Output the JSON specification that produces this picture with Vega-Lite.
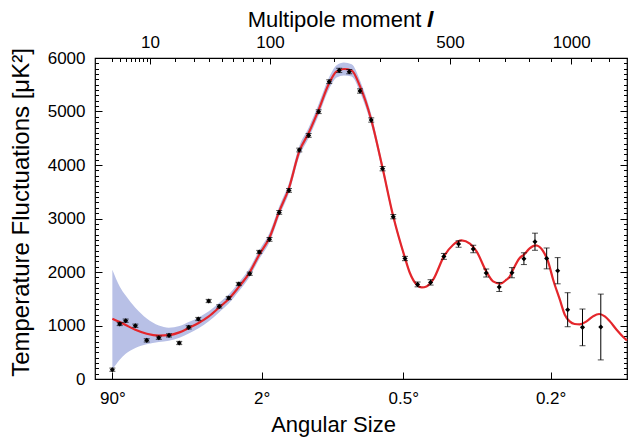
{
  "$schema": "https://vega.github.io/schema/vega-lite/v6.json",
  "width": 532,
  "height": 321,
  "autosize": {"type": "none"},
  "padding": {"left": 95, "top": 58, "right": 13, "bottom": 68},
  "background": "white",
  "config": {
    "view": {"stroke": "black", "strokeWidth": 1.2},
    "font": "Liberation Sans",
    "axis": {
      "domain": false,
      "grid": false,
      "tickColor": "black",
      "tickWidth": 1,
      "labelColor": "black",
      "titleColor": "black",
      "labelFont": "Liberation Sans",
      "titleFont": "Liberation Sans",
      "labelFontSize": 17,
      "titleFontSize": 22,
      "titleFontWeight": "normal"
    }
  },
  "datasets": {
    "band": [
      {"l": 2, "lo": 174, "hi": 2043},
      {"l": 3, "lo": 361, "hi": 1731},
      {"l": 4, "lo": 470, "hi": 1560},
      {"l": 6, "lo": 580, "hi": 1330},
      {"l": 9, "lo": 650, "hi": 1130},
      {"l": 13, "lo": 690, "hi": 1000},
      {"l": 17, "lo": 715, "hi": 960},
      {"l": 22, "lo": 770, "hi": 990},
      {"l": 27, "lo": 850, "hi": 1065},
      {"l": 33, "lo": 950, "hi": 1150},
      {"l": 40, "lo": 1080, "hi": 1265},
      {"l": 48, "lo": 1250, "hi": 1425},
      {"l": 56, "lo": 1410, "hi": 1580},
      {"l": 65, "lo": 1630, "hi": 1795},
      {"l": 76.5, "lo": 1910, "hi": 2075},
      {"l": 87, "lo": 2240, "hi": 2405},
      {"l": 99.6, "lo": 2560, "hi": 2740},
      {"l": 112, "lo": 3043, "hi": 3223},
      {"l": 125.6, "lo": 3475, "hi": 3665},
      {"l": 140.9, "lo": 4154, "hi": 4354},
      {"l": 155.8, "lo": 4498, "hi": 4698},
      {"l": 172.7, "lo": 4929, "hi": 5139},
      {"l": 191.7, "lo": 5423, "hi": 5643},
      {"l": 205.7, "lo": 5635, "hi": 5865},
      {"l": 220, "lo": 5674, "hi": 5914},
      {"l": 236, "lo": 5653, "hi": 5883},
      {"l": 254, "lo": 5359, "hi": 5579},
      {"l": 279.3, "lo": 4747, "hi": 4947},
      {"l": 306.4, "lo": 3864, "hi": 4024},
      {"l": 333.3, "lo": 2980, "hi": 3100},
      {"l": 364.5, "lo": 2222, "hi": 2302},
      {"l": 378, "lo": 1951, "hi": 2011},
      {"l": 397, "lo": 1743, "hi": 1783}
    ],
    "model": [
      {"l": 2, "v": 1127},
      {"l": 3, "v": 1065},
      {"l": 4, "v": 1009},
      {"l": 6, "v": 921},
      {"l": 9, "v": 846},
      {"l": 13, "v": 812},
      {"l": 17, "v": 820},
      {"l": 22, "v": 871},
      {"l": 27, "v": 953},
      {"l": 33, "v": 1047},
      {"l": 40, "v": 1170},
      {"l": 48, "v": 1338},
      {"l": 56, "v": 1495},
      {"l": 65, "v": 1712},
      {"l": 76.5, "v": 1993},
      {"l": 87, "v": 2323},
      {"l": 99.6, "v": 2650},
      {"l": 112, "v": 3133},
      {"l": 125.6, "v": 3570},
      {"l": 140.9, "v": 4254},
      {"l": 155.8, "v": 4598},
      {"l": 172.7, "v": 5034},
      {"l": 191.7, "v": 5533},
      {"l": 205.7, "v": 5750},
      {"l": 220, "v": 5794},
      {"l": 236, "v": 5768},
      {"l": 254, "v": 5469},
      {"l": 279.3, "v": 4847},
      {"l": 306.4, "v": 3944},
      {"l": 333.3, "v": 3040},
      {"l": 364.5, "v": 2262},
      {"l": 378, "v": 1981},
      {"l": 397, "v": 1763},
      {"l": 412, "v": 1712},
      {"l": 426, "v": 1731},
      {"l": 446, "v": 1856},
      {"l": 480, "v": 2292},
      {"l": 510.5, "v": 2510},
      {"l": 539, "v": 2590},
      {"l": 568, "v": 2529},
      {"l": 592, "v": 2385},
      {"l": 628, "v": 2011},
      {"l": 654, "v": 1824},
      {"l": 681, "v": 1781},
      {"l": 707, "v": 1856},
      {"l": 721, "v": 1918},
      {"l": 734, "v": 2043},
      {"l": 762, "v": 2262},
      {"l": 780, "v": 2323},
      {"l": 805, "v": 2440},
      {"l": 832, "v": 2497},
      {"l": 866, "v": 2385},
      {"l": 888, "v": 2198},
      {"l": 912, "v": 1856},
      {"l": 944, "v": 1482},
      {"l": 968, "v": 1202},
      {"l": 992, "v": 1077},
      {"l": 1017, "v": 1028},
      {"l": 1043, "v": 1021},
      {"l": 1078, "v": 1077},
      {"l": 1112, "v": 1170},
      {"l": 1145, "v": 1215},
      {"l": 1176, "v": 1170},
      {"l": 1204, "v": 1077},
      {"l": 1242, "v": 921},
      {"l": 1280, "v": 785},
      {"l": 1302, "v": 721}
    ],
    "spectrum": [
      {"l": 2, "v": 174, "lo": 144, "hi": 204},
      {"l": 3, "v": 1028, "lo": 998, "hi": 1058},
      {"l": 4, "v": 1090, "lo": 1060, "hi": 1120},
      {"l": 6, "v": 996, "lo": 966, "hi": 1026},
      {"l": 9, "v": 722, "lo": 692, "hi": 752},
      {"l": 13, "v": 772, "lo": 742, "hi": 802},
      {"l": 17.1, "v": 815, "lo": 785, "hi": 845},
      {"l": 21.9, "v": 673, "lo": 643, "hi": 703},
      {"l": 27, "v": 965, "lo": 935, "hi": 995},
      {"l": 32.8, "v": 1121, "lo": 1091, "hi": 1151},
      {"l": 39.9, "v": 1458, "lo": 1428, "hi": 1488},
      {"l": 48, "v": 1357, "lo": 1327, "hi": 1387},
      {"l": 56, "v": 1514, "lo": 1484, "hi": 1544},
      {"l": 65.3, "v": 1776, "lo": 1746, "hi": 1806},
      {"l": 76.5, "v": 1968, "lo": 1938, "hi": 1998},
      {"l": 87.1, "v": 2374, "lo": 2344, "hi": 2404},
      {"l": 99.4, "v": 2610, "lo": 2575, "hi": 2645},
      {"l": 112, "v": 3114, "lo": 3079, "hi": 3149},
      {"l": 125.6, "v": 3525, "lo": 3490, "hi": 3560},
      {"l": 140.9, "v": 4280, "lo": 4245, "hi": 4315},
      {"l": 155.8, "v": 4553, "lo": 4518, "hi": 4588},
      {"l": 172.7, "v": 4996, "lo": 4961, "hi": 5031},
      {"l": 191.7, "v": 5557, "lo": 5522, "hi": 5592},
      {"l": 210.8, "v": 5768, "lo": 5728, "hi": 5808},
      {"l": 231, "v": 5744, "lo": 5704, "hi": 5784},
      {"l": 253.9, "v": 5383, "lo": 5343, "hi": 5423},
      {"l": 279.3, "v": 4841, "lo": 4801, "hi": 4881},
      {"l": 306.4, "v": 3931, "lo": 3891, "hi": 3971},
      {"l": 333.3, "v": 3034, "lo": 2994, "hi": 3074},
      {"l": 364.5, "v": 2252, "lo": 2212, "hi": 2292},
      {"l": 399.8, "v": 1768, "lo": 1723, "hi": 1813},
      {"l": 438.3, "v": 1806, "lo": 1756, "hi": 1856},
      {"l": 479.9, "v": 2292, "lo": 2237, "hi": 2347},
      {"l": 528.6, "v": 2523, "lo": 2463, "hi": 2583},
      {"l": 579.9, "v": 2430, "lo": 2360, "hi": 2500},
      {"l": 627.7, "v": 1981, "lo": 1906, "hi": 2056},
      {"l": 678.1, "v": 1720, "lo": 1635, "hi": 1805},
      {"l": 729.5, "v": 1987, "lo": 1892, "hi": 2082},
      {"l": 780, "v": 2249, "lo": 2139, "hi": 2359},
      {"l": 828.5, "v": 2566, "lo": 2406, "hi": 2726},
      {"l": 881.6, "v": 2254, "lo": 2059, "hi": 2449},
      {"l": 933.5, "v": 2024, "lo": 1779, "hi": 2269},
      {"l": 982, "v": 1295, "lo": 977, "hi": 1613},
      {"l": 1057, "v": 965, "lo": 622, "hi": 1308},
      {"l": 1154, "v": 972, "lo": 357, "hi": 1587}
    ]
  },
  "layer": [
    {
      "data": {"name": "band"},
      "mark": {"type": "area", "color": "#b8c0e6", "interpolate": "monotone"},
      "encoding": {
        "x": {
          "field": "l",
          "type": "quantitative",
          "scale": {"type": "pow", "exponent": 0.4, "domain": [0.52, 1302], "nice": false, "zero": false},
          "axis": {
            "orient": "bottom",
            "values": [2, 90, 360, 900],
            "labelExpr": "180 / datum.value + '°'",
            "tickSize": -7,
            "labelPadding": 18,
            "title": "Angular Size",
            "titleX": 238,
            "titlePadding": 8
          }
        },
        "y": {
          "field": "lo",
          "type": "quantitative",
          "scale": {"domain": [0, 6000], "nice": false, "zero": true},
          "axis": {
            "orient": "left",
            "values": [0, 1000, 2000, 3000, 4000, 5000, 6000],
            "format": "d",
            "tickSize": -7,
            "labelPadding": 17,
            "title": "Temperature Fluctuations [μK²]",
            "titleFontSize": 24,
            "titleY": 154,
            "titlePadding": 14
          }
        },
        "y2": {"field": "hi"}
      }
    },
    {
      "data": {"name": "model"},
      "mark": {"type": "line", "color": "#e4262b", "strokeWidth": 2.2, "interpolate": "monotone"},
      "encoding": {
        "x": {
          "field": "l",
          "type": "quantitative",
          "axis": {
            "orient": "top",
            "values": [10, 100, 500, 1000],
            "format": "d",
            "tickSize": -6,
            "labelPadding": 12.5,
            "title": "Multipole moment  𝒍",
            "titleX": 245,
            "titlePadding": 2
          }
        },
        "y": {
          "field": "v",
          "type": "quantitative",
          "axis": {
            "orient": "right",
            "values": [0, 1000, 2000, 3000, 4000, 5000, 6000],
            "labels": false,
            "tickSize": -7,
            "title": null
          }
        }
      }
    },
    {
      "data": {"name": "spectrum"},
      "mark": {"type": "errorbar", "color": "black", "ticks": {"size": 6, "thickness": 1}, "thickness": 1},
      "encoding": {
        "x": {"field": "l", "type": "quantitative", "axis": null},
        "y": {"field": "lo", "type": "quantitative", "axis": null},
        "y2": {"field": "hi"}
      }
    },
    {
      "data": {"name": "spectrum"},
      "mark": {"type": "point", "shape": "diamond", "filled": true, "color": "black", "size": 26, "opacity": 1},
      "encoding": {
        "x": {
          "field": "l",
          "type": "quantitative",
          "axis": {
            "orient": "top",
            "values": [2, 3, 4, 5, 6, 7, 8, 9, 20, 30, 40, 50, 60, 70, 80, 90, 200, 300, 400, 600, 700, 800, 900, 1100, 1200],
            "labels": false,
            "tickSize": -3.5,
            "title": null
          }
        },
        "y": {
          "field": "v",
          "type": "quantitative",
          "axis": {
            "orient": "left",
            "values": [0, 100, 200, 300, 400, 500, 600, 700, 800, 900, 1000, 1100, 1200, 1300, 1400, 1500, 1600, 1700, 1800, 1900, 2000, 2100, 2200, 2300, 2400, 2500, 2600, 2700, 2800, 2900, 3000, 3100, 3200, 3300, 3400, 3500, 3600, 3700, 3800, 3900, 4000, 4100, 4200, 4300, 4400, 4500, 4600, 4700, 4800, 4900, 5000, 5100, 5200, 5300, 5400, 5500, 5600, 5700, 5800, 5900, 6000],
            "labels": false,
            "tickSize": -3.5,
            "title": null
          }
        }
      }
    },
    {
      "data": {"name": "spectrum"},
      "mark": {"type": "point", "opacity": 0},
      "encoding": {
        "x": {"field": "l", "type": "quantitative", "axis": null},
        "y": {
          "field": "v",
          "type": "quantitative",
          "axis": {
            "orient": "right",
            "values": [0, 100, 200, 300, 400, 500, 600, 700, 800, 900, 1000, 1100, 1200, 1300, 1400, 1500, 1600, 1700, 1800, 1900, 2000, 2100, 2200, 2300, 2400, 2500, 2600, 2700, 2800, 2900, 3000, 3100, 3200, 3300, 3400, 3500, 3600, 3700, 3800, 3900, 4000, 4100, 4200, 4300, 4400, 4500, 4600, 4700, 4800, 4900, 5000, 5100, 5200, 5300, 5400, 5500, 5600, 5700, 5800, 5900, 6000],
            "labels": false,
            "tickSize": -3.5,
            "title": null
          }
        }
      }
    }
  ],
  "resolve": {"axis": {"x": "independent", "y": "independent"}}
}
